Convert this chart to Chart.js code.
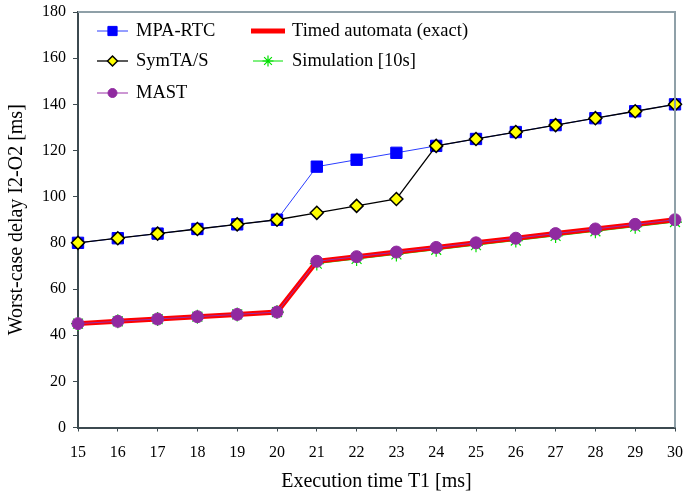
<!DOCTYPE html>
<html>
<head>
<meta charset="utf-8">
<script src="https://cdn.jsdelivr.net/npm/chart.js@4.4.0/dist/chart.umd.min.js"></script>
<style>
  html, body { margin: 0; padding: 0; background: #fff; }
  #wrap { width: 684px; height: 494px; }
</style>
</head>
<body>
<div id="wrap"><canvas id="grafico" width="684" height="494"></canvas></div>
<script>
// Eixo X: tempo de execução T1 [ms]
const execTimes = ["15", "16", "17", "18", "19", "20", "21", "22", "23", "24", "25", "26", "27", "28", "29", "30"];
const yTicks = [0, 20, 40, 60, 80, 100, 120, 140, 160, 180];

// Séries (atraso de pior caso I2-O2 [ms])
const mpaRtc = [80, 82, 84, 86, 88, 90, 113, 116, 119, 122, 125, 128, 131, 134, 137, 140];
const symtas = [80, 82, 84, 86, 88, 90, 93, 96, 99, 122, 125, 128, 131, 134, 137, 140];
const mast = [45, 46, 47, 48, 49, 50, 72, 74, 76, 78, 80, 82, 84, 86, 88, 90];
const timedAutomata = [45, 46, 47, 48, 49, 50, 72, 74, 76, 78, 80, 82, 84, 86, 88, 90];
const simulation = [45, 46, 47, 48, 49, 50, 71, 73, 75, 77, 79, 81, 83, 85, 87, 89];

const serif = "'Liberation Serif', 'Times New Roman', serif";

const datasets = [
  {
    label: "MPA-RTC", data: mpaRtc, order: 2,
    borderColor: "#2a3cff", borderWidth: 1,
    pointStyle: "rect", pointRadius: 8, pointBackgroundColor: "#0000ff",
    pointBorderColor: "#0000ff", pointBorderWidth: 1, tension: 0,
  },
  {
    label: "SymTA/S", data: symtas, order: 1,
    borderColor: "#000000", borderWidth: 1.3,
    pointStyle: "rectRot", pointRadius: 6.5, pointBackgroundColor: "#ffff00",
    pointBorderColor: "#000000", pointBorderWidth: 1.5, tension: 0,
  },
  {
    label: "MAST", data: mast, order: 3,
    borderColor: "#9a30a8", borderWidth: 1,
    pointStyle: "circle", pointRadius: 6, pointBackgroundColor: "#902aa0",
    pointBorderColor: "#902aa0", pointBorderWidth: 1, tension: 0,
  },
  {
    label: "Timed automata (exact)", data: timedAutomata, order: 4,
    borderColor: "#ff0000", borderWidth: 5, pointRadius: 0, tension: 0,
  },
  {
    label: "Simulation [10s]", data: simulation, order: 5,
    borderColor: "#00e000", borderWidth: 1,
    pointStyle: "star", pointRadius: 7, pointBackgroundColor: "#00e000",
    pointBorderColor: "#00e000", pointBorderWidth: 1.2, tension: 0,
  },
];

// Legenda desenhada à mão (duas colunas)
const legendItems = [
  { ds: 0, x: 97, y: 31, len: 31, tx: 136 },
  { ds: 1, x: 97, y: 61, len: 31, tx: 136 },
  { ds: 2, x: 97, y: 93, len: 31, tx: 136 },
  { ds: 3, x: 251, y: 31, len: 34, tx: 292 },
  { ds: 4, x: 253, y: 61, len: 30, tx: 292 },
];

const extras = {
  id: "extras",
  afterDraw(chart) {
    const ctx = chart.ctx;
    const a = chart.chartArea;
    ctx.save();
    // borda superior e direita
    ctx.strokeStyle = "#8fa0a8";
    ctx.lineWidth = 2;
    ctx.beginPath();
    ctx.moveTo(a.left, a.top);
    ctx.lineTo(a.right, a.top);
    ctx.lineTo(a.right, a.bottom);
    ctx.stroke();

    ctx.font = "18.5px " + serif;
    ctx.textBaseline = "middle";
    ctx.fillStyle = "#000";
    legendItems.forEach(it => {
      const d = datasets[it.ds];
      ctx.strokeStyle = d.borderColor;
      ctx.lineWidth = d.borderWidth;
      ctx.beginPath();
      ctx.moveTo(it.x, it.y);
      ctx.lineTo(it.x + it.len, it.y);
      ctx.stroke();
      if (d.pointRadius > 0) {
        ctx.fillStyle = d.pointBackgroundColor;
        ctx.strokeStyle = d.pointBorderColor;
        ctx.lineWidth = d.pointBorderWidth;
        Chart.helpers.drawPoint(ctx, {
          pointStyle: d.pointStyle, radius: d.pointRadius - 1.5, rotation: 0, borderWidth: d.pointBorderWidth,
        }, it.x + it.len / 2, it.y);
      }
      ctx.fillStyle = "#000";
      ctx.fillText(d.label, it.tx, it.y);
    });
    ctx.restore();
  },
};

const ctx = document.getElementById("grafico").getContext("2d");
new Chart(ctx, {
  type: "line",
  data: { labels: execTimes, datasets: datasets },
  options: {
    responsive: false,
    animation: false,
    layout: { padding: { top: 12, right: 9, left: 0, bottom: 0 } },
    plugins: { legend: { display: false }, tooltip: { enabled: false } },
    scales: {
      x: {
        offset: false,
        grid: { drawOnChartArea: false, color: "#3c4a50", tickLength: 4 },
        border: { color: "#3c4a50", width: 2 },
        ticks: { color: "#000", font: { family: serif, size: 16 }, maxRotation: 0, autoSkip: false, padding: 12 },
        title: { display: true, text: "Execution time T1 [ms]", color: "#000", font: { family: serif, size: 20 }, padding: { top: 4, bottom: 0 } },
        afterFit(scale) { scale.height = 66.5; scale.paddingRight = 0; scale.paddingLeft = 0; },
      },
      y: {
        min: 0, max: 180,
        afterBuildTicks(scale) { scale.ticks = yTicks.map(v => ({ value: v })); },
        grid: { drawOnChartArea: false, color: "#3c4a50", tickLength: 5 },
        border: { color: "#3c4a50", width: 2 },
        ticks: { color: "#000", font: { family: serif, size: 16 }, padding: 7 },
        title: { display: true, text: "Worst-case delay I2-O2 [ms]", color: "#000", font: { family: serif, size: 20 }, padding: { top: 5, bottom: 0 } },
        afterFit(scale) { scale.width = 78; scale.paddingTop = 0; scale.paddingBottom = 0; },
      },
    },
  },
  plugins: [extras],
});
</script>
</body>
</html>
